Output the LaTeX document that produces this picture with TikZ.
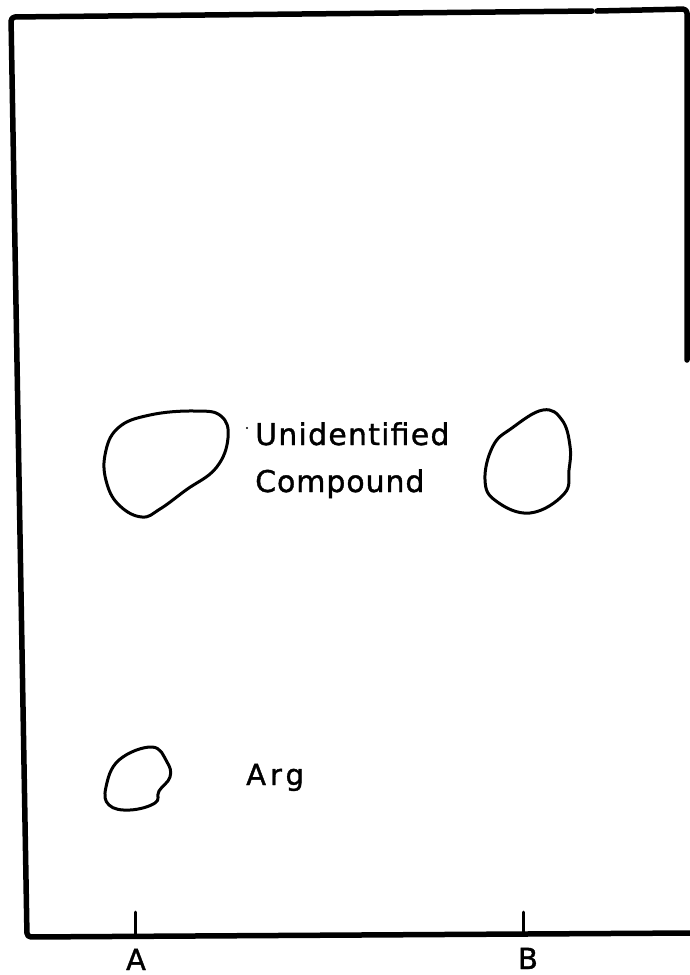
\documentclass[tikz,border=0pt]{standalone}
\usepackage{fontspec}
\setmainfont{DejaVu Sans}[FakeBold=1.2]
\begin{document}
\begin{tikzpicture}[x=1pt,y=-1pt,
  frameline/.style={line width=5.5pt,line cap=round,line join=round,rounded corners=4pt},
  spot/.style={line width=3pt,line join=round},
  tickline/.style={line width=3pt,line cap=round},
  lab/.style={inner sep=0pt,font=\fontsize{30}{36}\selectfont},
  axlab/.style={inner sep=0pt,font=\fontsize{29}{34}\selectfont}]
\useasboundingbox (0,0) rectangle (690,975);
% frame
\draw[frameline] (687,360) -- (687,9) -- (597,11);
\draw[frameline] (592,11) -- (11,17) -- (27,937) -- (692,933);
% ticks
\coordinate (ta) at (135,912);
\coordinate (tab) at (135,937);
\coordinate (tb) at (523,912);
\coordinate (tbb) at (523,933);
\draw[tickline] (ta) -- (tab);
\draw[tickline] (tb) -- (tbb);
% axis labels
\node[axlab,anchor=base] (la) at (136,970) {A};
\node[axlab,anchor=base] (lb) at (528,969) {B};
% spots
\draw[spot] plot[smooth cycle,tension=0.7] coordinates {
  (105,455) (118,428) (150,415) (195,411) (221,416) (228,438)
  (216,468) (186,490) (160,509) (142,517) (120,506) (107,484)};
\draw[spot] plot[smooth cycle,tension=0.7] coordinates {
  (543,410) (562,420) (570,446) (569,470) (564,494) (530,513)
  (496,501) (485,480) (493,446) (512,428)};
\draw[spot] plot[smooth cycle,tension=0.7] coordinates {
  (152,747) (167,762) (170,777) (159,791) (155,803) (130,810)
  (109,805) (106,787) (119,760)};
% labels
\fill (247,428) circle (1.2pt);
\node[lab,anchor=base west,font=\fontsize{30}{36}\selectfont\addfontfeatures{LetterSpace=4}] (uni) at (255,445) {Unidentified};
\node[lab,anchor=base west,font=\fontsize{30}{36}\selectfont\addfontfeatures{LetterSpace=3}] (comp) at (255,492) {Compound};
\node[lab,anchor=base west,font=\fontsize{29}{34}\selectfont\addfontfeatures{LetterSpace=14}] (arg) at (246,785) {Arg};
\end{tikzpicture}
\end{document}
